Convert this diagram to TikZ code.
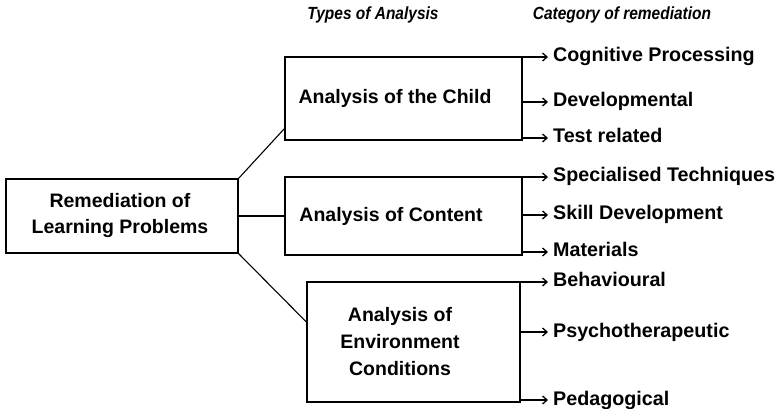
\documentclass[tikz,border=0pt]{standalone}
\usepackage{fontspec}
\setmainfont{Liberation Sans}
\newfontfamily\hdrfont[FakeStretch=0.88]{Liberation Sans}
\usetikzlibrary{arrows.meta}
\begin{document}
\begin{tikzpicture}[x=1pt,y=-1pt,
  box/.style={draw, line width=1.3pt, inner sep=0pt},
  txt/.style={font=\fontsize{19.5}{26}\selectfont\bfseries, inner sep=0pt, align=center},
  lbl/.style={font=\fontsize{19.7}{22}\selectfont\bfseries, inner sep=0pt, anchor=west, text height=14pt, text depth=4pt},
  hdr/.style={font=\hdrfont\fontsize{17.6}{20}\selectfont\bfseries\itshape, inner sep=0pt},
  conn/.style={line width=1.1pt},
  arr/.style={line width=1.3pt, -{Straight Barb[length=4.5pt,width=8pt]}, shorten >=5pt}]
\useasboundingbox (0,0) rectangle (780,409);

% headers
\node[hdr] (h1) at (373,15) {Types of Analysis};
\node[hdr] (h2) at (622,15) {Category of remediation};

% boxes
\node[box, minimum width=232pt, minimum height=74pt] (rem) at (122,216) {};
\node[txt] (remt) at (120,216) {Remediation of\\Learning Problems};

\node[box, minimum width=237pt, minimum height=83pt] (child) at (403.5,98.5) {};
\node[txt] (childt) at (395,98) {Analysis of the Child};

\node[box, minimum width=237pt, minimum height=78pt] (content) at (403.5,216) {};
\node[txt] (contentt) at (391,216) {Analysis of Content};

\node[box, minimum width=213pt, minimum height=120pt] (env) at (413.5,342) {};
\node[txt, font=\fontsize{19.5}{27}\selectfont\bfseries] (envt) at (400,342) {Analysis of\\Environment\\Conditions};

% connectors
\draw[conn] (rem.north east) -- ([yshift=12pt]child.south west);
\draw[conn] (rem.east) -- (content.west);
\draw[conn] (rem.south east) -- ([yshift=20pt]env.west);

% category labels
\node[lbl] (cog) at (553,57) {Cognitive Processing};
\node[lbl] (dev) at (553,102) {Developmental};
\node[lbl] (test) at (553,138) {Test related};
\node[lbl] (spec) at (553,177) {Specialised Techniques};
\node[lbl] (skill) at (553,215) {Skill Development};
\node[lbl] (mat) at (553,252) {Materials};
\node[lbl] (beh) at (553,282) {Behavioural};
\node[lbl] (psy) at (553,332) {Psychotherapeutic};
\node[lbl] (ped) at (553,400) {Pedagogical};

% arrows
\foreach \n in {cog,dev,test} \draw[arr] (child.east |- \n.west) -- (\n.west);
\foreach \n in {spec,skill,mat} \draw[arr] (content.east |- \n.west) -- (\n.west);
\foreach \n in {beh,psy,ped} \draw[arr] (env.east |- \n.west) -- (\n.west);
\end{tikzpicture}
\end{document}
